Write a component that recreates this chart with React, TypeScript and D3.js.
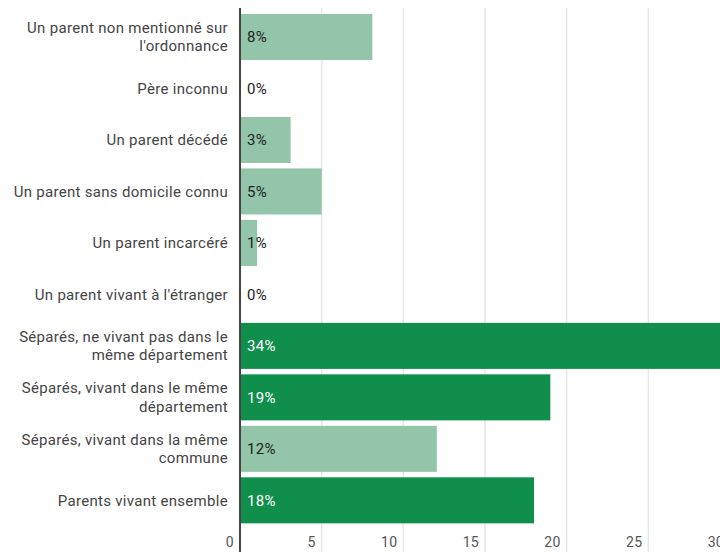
import React from "react";
import * as d3 from "d3";

const categories: string[][] = [
  ["Un parent non mentionné sur", "l'ordonnance"],
  ["Père inconnu"],
  ["Un parent décédé"],
  ["Un parent sans domicile connu"],
  ["Un parent incarcéré"],
  ["Un parent vivant à l'étranger"],
  ["Séparés, ne vivant pas dans le", "même département"],
  ["Séparés, vivant dans le même", "département"],
  ["Séparés, vivant dans la même", "commune"],
  ["Parents vivant ensemble"],
];
const values = [8.1, 0, 3.1, 5, 1.05, 0, 34, 19, 12.05, 18];
const labels = ["8%", "0%", "3%", "5%", "1%", "0%", "34%", "19%", "12%", "18%"];
const highlight = [false, false, false, false, false, false, true, true, false, true];
const ticks = [0, 5, 10, 15, 20, 25, 30];

const W = 720;
const H = 552;
const DARK = "#108f4c";
const LIGHT = "#92c5a9";
const FONT = "Roboto, sans-serif";

export default function App() {
  const x = d3.scaleLinear().domain([0, 30]).range([240, 730]);
  const idx = categories.map((_, i) => String(i));
  const y = d3
    .scaleBand<string>()
    .domain(idx)
    .range([11.26, 526.06])
    .paddingInner(0.106)
    .paddingOuter(0.053);
  const bw = y.bandwidth();
  return (
    <div style={{ position: "fixed", left: 0, top: 0 }}>
      <svg width={W} height={H} style={{ display: "block" }} fontFamily={FONT}>
        <rect width={W} height={H} fill="#fff" />
        {ticks.slice(1).map((t) => (
          <line key={t} x1={x(t)} x2={x(t)} y1={8} y2={H} stroke="#e6e6e6" strokeWidth={1.5} />
        ))}
        {values.map((v, i) => {
          const y0 = y(String(i))!;
          return (
            <g key={i}>
              {v > 0 && (
                <rect x={x(0)} y={y0} width={x(v) - x(0)} height={bw} fill={highlight[i] ? DARK : LIGHT} />
              )}
              <text
                x={247}
                y={y0 + bw / 2}
                dy="0.35em"
                fontSize={15}
                letterSpacing={0.3}
                fill={highlight[i] ? "#ffffff" : "#222222"}
              >
                {labels[i]}
              </text>
              <text
                x={228}
                y={y0 + bw / 2}
                fontSize={15}
                letterSpacing={0.3}
                fill="#444"
                textAnchor="end"
              >
                {categories[i].map((line, j) => (
                  <tspan
                    key={j}
                    x={228}
                    dy={j === 0 ? `${0.35 - ((categories[i].length - 1) * 1.22) / 2}em` : "1.22em"}
                  >
                    {line}
                  </tspan>
                ))}
              </text>
            </g>
          );
        })}
        <line x1={x(0)} x2={x(0)} y1={8} y2={H} stroke="#444" strokeWidth={2} />
        {ticks.map((t) => (
          <text
            key={t}
            x={x(t) - 6}
            y={547}
            fontSize={14}
            letterSpacing={0.3}
            fill="#555"
            textAnchor="end"
          >
            {t}
          </text>
        ))}
      </svg>
    </div>
  );
}
